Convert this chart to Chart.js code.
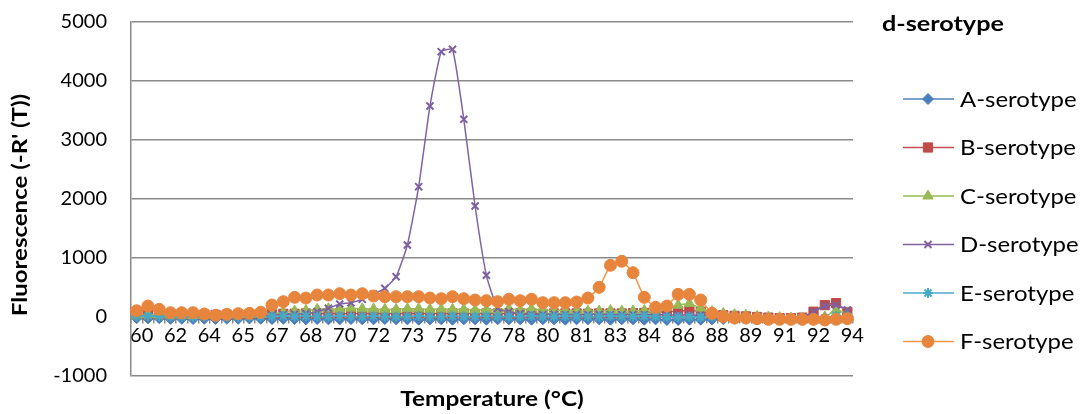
<!DOCTYPE html>
<html>
<head>
<meta charset="utf-8">
<script src="https://cdn.jsdelivr.net/npm/chart.js@4.4.1/dist/chart.umd.min.js"></script>
<style>
  html, body { margin: 0; padding: 0; background: #fff; }
  #wrap { width: 1083px; height: 414px; }
</style>
</head>
<body>
<div id="wrap"><canvas id="melt"></canvas></div>
<script>
// Melt curve temperatures (°C), one per read
const temps = [
  60.4, 60.9, 61.5, 62.0, 62.5, 63.1, 63.6, 64.1, 64.7, 65.2, 65.7, 66.3,
  66.8, 67.3, 67.9, 68.4, 68.9, 69.5, 70.0, 70.5, 71.1, 71.6, 72.1, 72.7,
  73.2, 73.7, 74.3, 74.8, 75.3, 75.9, 76.4, 76.9, 77.5, 78.0, 78.5, 79.1,
  79.6, 80.1, 80.7, 81.2, 81.7, 82.3, 82.8, 83.3, 83.9, 84.4, 84.9, 85.5,
  86.0, 86.5, 87.1, 87.6, 88.1, 88.7, 89.2, 89.7, 90.3, 90.8, 91.3, 91.9,
  92.4, 92.9, 93.5, 94.0
];

// -R'(T) per serotype
const serotypeA = [
  -20, -25, -20, -30, -30, -35, -30, -35, -30, -30, -25, -30,
  -35, -30, -35, -40, -35, -40, -40, -35, -40, -40, -35, -40,
  -40, -45, -40, -40, -45, -40, -40, -45, -40, -40, -40, -45,
  -40, -40, -45, -40, -40, -40, -45, -40, -40, -45, -40, -50,
  -50, -45, -45, -40, -35, -30, -30, -30, -30, -30, -30, -30,
  -30, -30, -25, -30
];
const serotypeB = [
  40, 45, 40, 40, 35, 40, 40, 35, 40, 40, 45, 45,
  50, 55, 55, 60, 55, 60, 60, 55, 60, 60, 55, 60,
  60, 60, 55, 60, 60, 60, 55, 60, 60, 55, 60, 60,
  55, 60, 60, 60, 55, 60, 60, 60, 65, 70, 80, 90,
  100, 110, 90, 50, 30, 20, 10, 0, -10, -20, -20, -10,
  90, 200, 235, 85
];
const serotypeC = [
  30, 40, 35, 30, 30, 25, 30, 25, 30, 35, 40, 45,
  60, 80, 100, 110, 130, 140, 135, 150, 140, 135, 130, 130,
  140, 140, 130, 135, 130, 130, 120, 125, 120, 140, 120, 140,
  120, 110, 110, 100, 100, 100, 110, 100, 100, 110, 130, 160,
  200, 230, 150, 90, 60, 40, 30, 10, 0, -10, -20, -20,
  -20, 0, 120, 60
];
const serotypeD = [
  20, 10, 15, 5, 10, 0, 5, 0, 10, 15, 10, 20,
  30, 40, 50, 60, 90, 147, 220, 243, 300, 390, 486, 683,
  1220, 2209, 3576, 4497, 4537, 3350, 1881, 707, 147, 90, 60, 40,
  40, 45, 40, 40, 40, 45, 40, 40, 40, 40, 40, 35,
  35, 30, 30, 20, 10, 0, -10, -20, -20, -20, -20, -10,
  90, 186, 203, 119
];
const serotypeE = [
  10, 15, 10, 5, 5, 0, 5, 0, 5, 5, 10, 10,
  10, 15, 10, 15, 10, 10, 15, 10, 10, 15, 10, 10,
  10, 15, 10, 10, 15, 10, 10, 15, 10, 10, 10, 15,
  10, 10, 15, 10, 10, 10, 15, 10, 10, 15, 10, 0,
  0, 5, 0, 5, 0, 0, -10, -10, -15, -20, -20, -20,
  -20, -15, 20, 10
];
const serotypeF = [
  107, 186, 130, 73, 73, 73, 51, 28, 45, 56, 62, 79,
  203, 260, 333, 322, 373, 373, 395, 373, 395, 356, 345, 345,
  345, 345, 322, 311, 345, 311, 288, 277, 260, 300, 277, 300,
  243, 243, 243, 254, 322, 503, 876, 944, 751, 333, 164, 186,
  384, 384, 288, 62, 5, -17, -17, -28, -40, -40, -40, -40,
  -40, -51, -40, -28
];

const seriesNames = ['A-serotype', 'B-serotype', 'C-serotype', 'D-serotype', 'E-serotype', 'F-serotype'];
const seriesValues = [serotypeA, serotypeB, serotypeC, serotypeD, serotypeE, serotypeF];
const seriesColors = ['#4F81BD', '#C0504D', '#9BBB59', '#8064A2', '#4BACC6', '#F79646'];
const markerColors = ['#4A7EBB', '#BE4B48', '#98B954', '#7D60A0', '#46AAC5', '#E8853D'];
const markerStyles = ['rectRot', 'rect', 'triangle', 'crossRot', 'star', 'circle'];
const markerSizes = [5.5, 6.5, 6, 5, 5, 6];

const yTicks = [-1000, 0, 1000, 2000, 3000, 4000, 5000];

const FONT = 'Lato, "Open Sans", sans-serif';
const GRID = '#8a8a8a';

const isStroked = (style) => style === 'crossRot' || style === 'star';

const datasets = seriesNames.map((name, i) => ({
  label: name,
  data: seriesValues[i],
  borderColor: seriesColors[i],
  backgroundColor: seriesColors[i],
  borderWidth: 1.5,
  pointStyle: markerStyles[i],
  pointRadius: markerSizes[i],
  pointBackgroundColor: markerColors[i],
  pointBorderColor: markerColors[i],
  pointBorderWidth: isStroked(markerStyles[i]) ? 2 : 1,
  tension: 0.15,
  order: seriesNames.length - i // later series paint on top
}));

// text drawn a little wider than the font's natural width
function wideText(ctx, text, x, y, font, align, sx) {
  ctx.save();
  ctx.font = font;
  ctx.textAlign = align;
  ctx.textBaseline = 'middle';
  ctx.translate(x, y);
  ctx.scale(sx, 1);
  ctx.fillText(text, 0, 0);
  ctx.restore();
}

// Legend, header and axis titles drawn around the plot
const sideText = {
  id: 'sideText',
  afterDraw(chart) {
    const ctx = chart.ctx;
    ctx.save();
    ctx.fillStyle = '#000';

    wideText(ctx, 'd-serotype', 882, 24, 'bold 21px ' + FONT, 'left', 1.2);
    wideText(ctx, 'Temperature (°C)', 492, 400, 'bold 20px ' + FONT, 'center', 1.22);

    // y title, rotated
    ctx.save();
    ctx.translate(21, (chart.chartArea.top + chart.chartArea.bottom) / 2 + 6);
    ctx.rotate(-Math.PI / 2);
    wideText(ctx, "Fluorescence (-R' (T))", 0, 0, 'bold 20px ' + FONT, 'center', 1.2);
    ctx.restore();

    seriesNames.forEach((name, i) => {
      const y = 99 + i * 48.5;
      ctx.strokeStyle = seriesColors[i];
      ctx.lineWidth = 1.5;
      ctx.beginPath();
      ctx.moveTo(903, y);
      ctx.lineTo(954, y);
      ctx.stroke();

      ctx.fillStyle = markerColors[i];
      ctx.strokeStyle = markerColors[i];
      ctx.lineWidth = isStroked(markerStyles[i]) ? 2 : 1;
      Chart.helpers.drawPoint(ctx, {
        pointStyle: markerStyles[i],
        radius: markerSizes[i],
        rotation: 0,
        borderWidth: ctx.lineWidth
      }, 928, y);

      ctx.fillStyle = '#000';
      wideText(ctx, name, 960, y + 1, '21px ' + FONT, 'left', 1.14);
    });
    ctx.restore();
  }
};

new Chart(document.getElementById('melt'), {
  type: 'line',
  data: { labels: temps, datasets: datasets },
  options: {
    responsive: true,
    maintainAspectRatio: false,
    animation: false,
    layout: { padding: { left: 0, top: 22, right: 230, bottom: 38 } },
    plugins: {
      legend: { display: false },
      tooltip: { enabled: false }
    },
    scales: {
      x: {
        type: 'category',
        position: { y: 0 },
        offset: true,
        grid: {
          display: true,
          drawOnChartArea: false,
          drawTicks: true,
          tickLength: 6,
          offset: true,
          color: GRID,
          lineWidth: 1.5
        },
        border: { display: true, color: GRID, width: 1.5 },
        ticks: {
          autoSkip: false,
          maxRotation: 0,
          padding: 1,
          labelOffset: 5,
          color: '#000',
          font: { family: FONT, size: 20 },
          callback: (v, i) => (i % 3 === 0 ? String(Math.round(temps[i])) : '')
        }
      },
      y: {
        min: yTicks[0],
        max: yTicks[yTicks.length - 1],
        afterBuildTicks: (scale) => { scale.ticks = yTicks.map(v => ({ value: v })); },
        afterFit: (scale) => { scale.width = 131; },
        grid: { color: GRID, lineWidth: 1.5, drawTicks: true, tickLength: 20, tickColor: 'rgba(0,0,0,0)' },
        border: { display: true, color: GRID, width: 1.5 },
        ticks: {
          padding: 4,
          color: '#000',
          font: { family: FONT, size: 20 },
          callback: (v) => String(v)
        }
      }
    }
  },
  plugins: [sideText]
});
</script>
</body>
</html>
